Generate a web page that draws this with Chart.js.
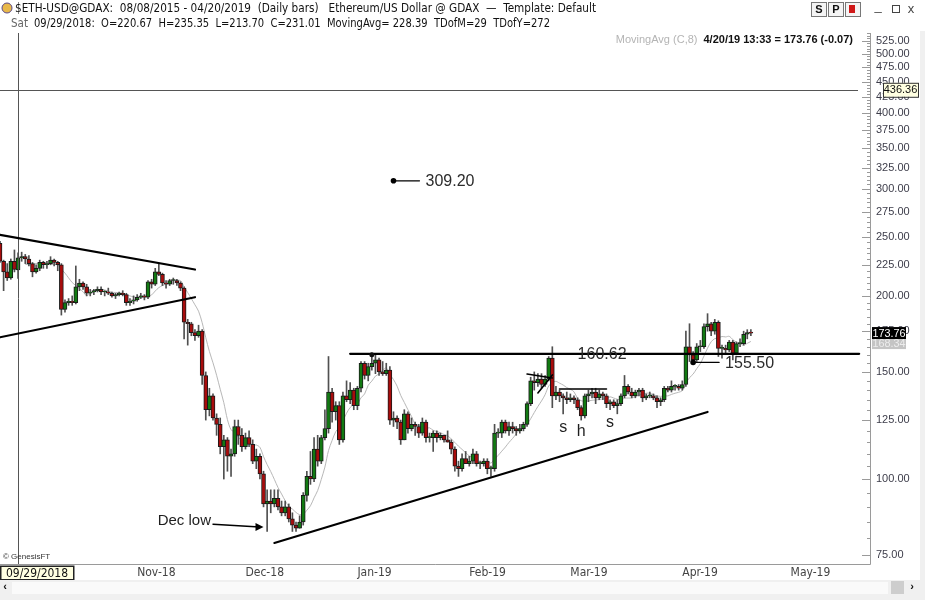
<!DOCTYPE html>
<html>
<head>
<meta charset="utf-8">
<title>$ETH-USD@GDAX daily bars</title>
<script src="https://cdn.jsdelivr.net/npm/chart.js@4.4.1/dist/chart.umd.min.js"></script>
<style>
    html, body { margin: 0; padding: 0; background: #fff; }
    #wrap { width: 925px; height: 600px; overflow: hidden; }
</style>
</head>
<body>
<div id="wrap"><canvas id="chart" width="925" height="600"></canvas></div>
<script>
// ETH-USD @ GDAX, daily bars 24 Sep 2018 - 20 Apr 2019

// Daily OHLC, one line per month
const opens = [
    244, 228, 219, 214, 228, 220.67, 231,
    232, 230, 226, 219, 222, 227, 225, 226, 229, 227, 225, 190, 195, 196, 195, 207, 210, 207, 202, 203, 204, 205, 203, 203, 202, 200, 201, 202, 201, 195, 196,
    197, 199, 200, 199, 211, 209, 219, 217, 210, 209, 212, 212, 210, 206, 181, 180, 174, 172, 175, 148, 130, 137, 126, 123, 113, 116, 109, 110, 122, 118,
    113, 117, 114, 107, 109, 102, 91, 92, 91, 93, 90, 88, 90, 86, 84, 83, 85, 94, 101, 100, 112, 107, 117, 121, 139, 129, 132, 116, 137, 135, 140,
    132, 141, 155, 148, 153, 155, 157, 150, 149, 151, 125, 126, 124, 116, 128, 121, 123, 122, 119, 124, 117, 117, 119, 117, 118, 116, 115, 112, 105, 104, 108,
    106, 107, 110, 106, 106, 107, 104, 104, 119, 119, 124, 120, 122, 121, 120, 121, 123, 133, 145, 144, 146, 143, 146, 158, 137, 139, 137, 136,
    135, 136, 135, 131, 127, 137, 138, 139, 136, 138, 137, 133, 134, 132, 133, 137, 142, 139, 137, 139, 140, 136, 137, 137, 136, 134, 135, 141, 140, 142, 142,
    141, 143, 165, 160, 157, 165, 165, 178, 180, 175, 181, 164, 164, 163, 168, 161, 167, 167, 173, 174
];
const highs = [
    246, 229, 226, 230, 238, 235.35, 236,
    234, 233, 227, 225, 229, 228, 228, 232, 230, 228, 226, 197, 198, 200, 224, 213, 211, 209, 205, 205, 207, 207, 204, 206, 203, 202, 203, 204, 202, 198, 200,
    201, 202, 201, 212, 213, 222, 226, 218, 212, 213, 214, 213, 211, 207, 183, 181, 176, 179, 176, 150, 141, 138, 128, 126, 118, 117, 112, 125, 125, 121,
    119, 120, 116, 112, 110, 103, 96, 96, 96, 96, 92, 92, 91, 88, 85, 87, 95, 103, 111, 117, 118, 118, 130, 159, 141, 134, 134, 139, 145, 144, 141,
    142, 156, 156, 155, 160.62, 160, 158, 156, 155, 153, 129, 127, 125, 130, 129, 126, 124, 123, 126, 125, 119, 120, 120, 119, 118, 120, 116, 113, 107, 110, 111,
    109, 112, 111, 107, 108, 108, 105, 123, 121, 125, 125, 124, 124, 122, 123, 124, 134, 147, 150, 149, 149, 148, 159, 165, 142, 140, 138, 139,
    138, 137, 136, 132, 138, 140, 141, 141, 140, 139, 138, 135, 135, 135, 138, 148, 143, 141, 140, 141, 141, 138, 139, 138, 137, 136, 142, 142, 145, 143, 143,
    145, 175, 180, 162, 167, 169, 180, 187, 181, 183, 182, 166, 166, 169, 169, 168, 170, 175, 176, 176
];
const lows = [
    227, 204, 212, 213, 219, 213.70, 228,
    226, 224, 215, 218, 220, 222, 222, 225, 224, 220, 186, 188, 193, 193, 194, 204, 205, 200, 200, 201, 203, 201, 200, 201, 199, 198, 200, 200, 193, 193, 194,
    196, 198, 197, 198, 206, 208, 216, 208, 206, 208, 209, 208, 204, 170, 166, 172, 169, 171, 143, 125, 127, 125, 118, 110, 100, 103, 101, 109, 114, 111,
    112, 113, 106, 104, 100, 90, 82, 88, 90, 89, 87, 87, 85, 82, 82, 83, 84, 92, 98, 99, 105, 106, 116, 119, 124, 125, 114, 115, 134, 133, 130,
    130, 139, 146, 145, 151, 149, 148, 148, 148, 123, 122, 121, 114, 116, 119, 120, 118, 117, 118, 115, 115, 111, 115, 116, 115, 115, 110, 103, 101, 103, 106,
    105, 106, 105, 104, 105, 102, 101, 103, 117, 117, 119, 118, 119, 118, 119, 120, 122, 132, 140, 142, 141, 142, 145, 131, 135, 134, 128, 133,
    134, 133, 130, 125, 126, 134, 136, 133, 135, 135, 131, 130, 131, 128, 132, 136, 138, 136, 136, 137, 134, 135, 136, 135, 131, 132, 134, 139, 139, 140, 140,
    140, 142, 156, 155.5, 156, 162, 164, 175, 172, 173, 159, 158, 161, 162, 157, 160, 165, 166, 170, 172
];
const closes = [
    228, 219, 214, 228, 221, 231.01, 232,
    230, 226, 219, 222, 227, 225, 226, 229, 227, 225, 190, 195, 196, 195, 207, 210, 207, 202, 203, 204, 205, 203, 203, 202, 200, 201, 202, 201, 195, 196, 197,
    199, 200, 199, 211, 209, 219, 217, 210, 209, 212, 212, 210, 206, 181, 180, 174, 172, 175, 148, 130, 137, 126, 123, 113, 116, 109, 110, 122, 118, 113,
    117, 114, 107, 109, 102, 91, 92, 91, 93, 90, 88, 90, 86, 84, 83, 85, 94, 101, 100, 112, 107, 117, 121, 139, 129, 132, 116, 137, 135, 140, 132,
    141, 155, 148, 153, 155, 157, 150, 149, 151, 125, 126, 124, 116, 128, 121, 123, 122, 119, 124, 117, 117, 119, 117, 118, 116, 115, 112, 105, 104, 108, 106,
    107, 110, 106, 106, 107, 104, 104, 119, 119, 124, 120, 122, 121, 120, 121, 123, 133, 145, 144, 146, 143, 146, 158, 137, 139, 137, 136, 135,
    136, 135, 131, 127, 137, 138, 139, 136, 138, 137, 133, 134, 132, 133, 137, 142, 139, 137, 139, 140, 136, 137, 137, 136, 134, 135, 141, 140, 142, 142, 141,
    143, 165, 160, 157, 165, 165, 178, 180, 175, 181, 164, 164, 163, 168, 161, 167, 167, 173, 174, 173.76
];

// price axis ticks
const priceTicks = [75, 100, 125, 150, 175, 200, 225, 250, 275, 300, 325, 350, 375, 400, 425, 450, 475, 500, 525];

// drawn studies: [fromDate, fromPrice, toDate, toPrice]
const trendLines = [
    ['2018-09-24', 252, '2018-11-17', 221],
    ['2018-09-24', 171, '2018-11-17', 199],
    ['2018-12-09', 78.5, '2019-04-08', 128.9],
    ['2018-12-30', 160.62, '2019-05-20', 160.62],
    ['2019-02-17', 148.8, '2019-02-24', 146.6],
    ['2019-02-20', 138.5, '2019-02-24', 148.3],
    ['2019-02-26', 140.6, '2019-03-11', 140.6]
];
const priceMarks = [
    { date: '2019-01-11', price: 309.20, text: '309.20' },
    { date: '2019-04-04', price: 155.50, text: '155.50' }
];
const letters = [
    { date: '2019-02-27', price: 121.3, text: 's' },
    { date: '2019-03-04', price: 119.5, text: 'h' },
    { date: '2019-03-12', price: 123.6, text: 's' }
];

const crossDate = '2018-09-29';
const crossPrice = 436.36;
const lastPrice = 173.76;

// Category axis: one slot per calendar day
const startDay = Date.UTC(2018, 8, 24);
const dayCount = 242;
const DAY = 86400000;
const months = ['Jan', 'Feb', 'Mar', 'Apr', 'May', 'Jun', 'Jul', 'Aug', 'Sep', 'Oct', 'Nov', 'Dec'];
const dates = Array.from({ length: dayCount }, (_, i) => new Date(startDay + i * DAY));
const labels = dates.map(d => d.toISOString().slice(0, 10));

function dayIndex(s) {
    const p = s.split('-').map(Number);
    return (Date.UTC(p[0], p[1] - 1, p[2]) - startDay) / DAY;
}

// MovingAvg (C,8)
const movingAvg = closes.map((c, i) => {
    if (i < 7) return null;
    let s = 0;
    for (let k = i - 7; k <= i; k++) s += closes[k];
    return s / 8;
});

const NARROW = '"Liberation Sans Narrow", "DejaVu Sans Condensed", "Arial Narrow", sans-serif';
const SANS = '"Liberation Sans", Arial, sans-serif';
const UP = '#127a12';
const DOWN = '#a80c0c';

const overlay = {
    id: 'overlay',
    beforeDraw(chart) {
        const ctx = chart.ctx;
        ctx.save();
        ctx.fillStyle = '#fff';
        ctx.fillRect(0, 0, chart.width, chart.height);
        ctx.restore();
    },
    afterDatasetsDraw(chart) {
        const ctx = chart.ctx;
        const xs = chart.scales.x, ys = chart.scales.y;
        const X = d => xs.getPixelForValue(dayIndex(d));
        const Y = p => ys.getPixelForValue(p);
        const area = chart.chartArea;

        ctx.save();
        ctx.beginPath();
        ctx.rect(area.left, area.top, area.right - area.left, area.bottom - area.top);
        ctx.clip();

        // crosshair
        ctx.strokeStyle = '#555';
        ctx.lineWidth = 1;
        const cx = Math.round(X(crossDate)) + 0.5;
        ctx.beginPath();
        ctx.moveTo(cx, area.top);
        ctx.lineTo(cx, area.bottom);
        const cy = Math.round(Y(crossPrice)) + 0.5;
        ctx.moveTo(area.left, cy);
        ctx.lineTo(858, cy);
        ctx.stroke();

        // trend lines
        ctx.strokeStyle = '#000';
        ctx.lineCap = 'round';
        trendLines.forEach((t, i) => {
            ctx.lineWidth = i >= 4 ? 1.6 : 2.2;
            ctx.beginPath();
            ctx.moveTo(X(t[0]), Y(t[1]));
            ctx.lineTo(X(t[2]), Y(t[3]));
            ctx.stroke();
        });

        // high marker on the Jan top
        ctx.fillStyle = '#111';
        ctx.beginPath();
        ctx.arc(X('2019-01-05'), Y(160.62) + 1, 2.5, 0, Math.PI * 2);
        ctx.fill();

        // price marks: dot, short line, value
        ctx.font = '16px ' + SANS;
        ctx.textBaseline = 'middle';
        ctx.textAlign = 'left';
        priceMarks.forEach(m => {
            const x = X(m.date), y = Y(m.price);
            ctx.fillStyle = '#000';
            ctx.beginPath();
            ctx.arc(x, y, 2.8, 0, Math.PI * 2);
            ctx.fill();
            ctx.strokeStyle = '#000';
            ctx.lineWidth = 1.2;
            ctx.beginPath();
            ctx.moveTo(x, y);
            ctx.lineTo(x + 26, y);
            ctx.stroke();
            ctx.fillStyle = '#2b2b2b';
            ctx.fillText(m.text, x + 32, y + 1);
        });

        // value on the resistance line
        ctx.fillStyle = '#2b2b2b';
        ctx.fillText('160.62', X('2019-03-03'), Y(160.62) + 1);

        // s h s
        ctx.textAlign = 'center';
        ctx.fillStyle = '#1e1e1e';
        letters.forEach(l => ctx.fillText(l.text, X(l.date), Y(l.price)));

        // Dec low arrow
        const ax0 = X('2018-11-22'), ay0 = Y(84.3);
        const ax1 = X('2018-12-06'), ay1 = Y(83.4);
        ctx.strokeStyle = '#000';
        ctx.lineWidth = 1.5;
        ctx.beginPath();
        ctx.moveTo(ax0, ay0);
        ctx.lineTo(ax1 - 4, ay1);
        ctx.stroke();
        ctx.beginPath();
        ctx.moveTo(ax1, ay1);
        ctx.lineTo(ax1 - 8, ay1 - 4);
        ctx.lineTo(ax1 - 8, ay1 + 4);
        ctx.closePath();
        ctx.fillStyle = '#000';
        ctx.fill();
        ctx.font = '15px ' + SANS;
        ctx.textAlign = 'right';
        ctx.fillStyle = '#1e1e1e';
        ctx.fillText('Dec low', ax0 - 2, ay0 - 3);

        ctx.restore();
    },
    afterDraw(chart) {
        const ctx = chart.ctx;
        const ys = chart.scales.y;
        const area = chart.chartArea;
        ctx.save();

        // frame + price axis tick marks
        ctx.strokeStyle = '#9a9a9a';
        ctx.lineWidth = 1;
        ctx.beginPath();
        ctx.moveTo(area.right + 0.5, area.top);
        ctx.lineTo(area.right + 0.5, area.bottom + 0.5);
        ctx.lineTo(0, area.bottom + 0.5);
        ctx.stroke();
        ctx.beginPath();
        for (let v = 75; v <= 540; v += 5) {
            const y = Math.round(ys.getPixelForValue(v)) + 0.5;
            const len = priceTicks.includes(v) ? 8 : 3;
            ctx.moveTo(area.right - len, y);
            ctx.lineTo(area.right, y);
        }
        ctx.stroke();

        // study caption
        ctx.textBaseline = 'middle';
        ctx.font = 'bold 11px ' + SANS;
        ctx.textAlign = 'right';
        ctx.fillStyle = '#111';
        const cap = '4/20/19 13:33 = 173.76 (-0.07)';
        ctx.fillText(cap, 853, 40);
        const capW = ctx.measureText(cap).width;
        ctx.font = '11px ' + SANS;
        ctx.fillStyle = '#b4b4b4';
        ctx.fillText('MovingAvg (C,8)', 853 - capW - 6, 40);

        ctx.font = '8px ' + SANS;
        ctx.textAlign = 'left';
        ctx.fillStyle = '#333';
        ctx.fillText('\u00a9 GenesisFT', 3, 557);

        // axis boxes
        ctx.font = '11px ' + SANS;
        ctx.textAlign = 'center';
        const hy = ys.getPixelForValue(crossPrice);
        ctx.fillStyle = '#ffffe1';
        ctx.fillRect(883, hy - 7, 35, 14);
        ctx.strokeStyle = '#333';
        ctx.strokeRect(883.5, hy - 6.5, 35, 14);
        ctx.fillStyle = '#111';
        ctx.fillText(crossPrice.toFixed(2), 900.5, hy + 0.5);

        const ly = ys.getPixelForValue(lastPrice);
        ctx.fillStyle = '#000';
        ctx.fillRect(872, ly - 6, 34, 12);
        ctx.fillStyle = '#fff';
        ctx.fillText(lastPrice.toFixed(2), 889, ly + 0.5, 33);
        ctx.fillStyle = '#c4c4c4';
        ctx.fillRect(872, ly + 6, 34, 10);
        ctx.fillStyle = '#ececec';
        ctx.fillText(movingAvg[movingAvg.length - 1].toFixed(2), 889, ly + 11, 33);

        // selected date box
        ctx.fillStyle = '#ffffe1';
        ctx.fillRect(0, 566, 74, 14);
        ctx.strokeStyle = '#222';
        ctx.lineWidth = 1.5;
        ctx.strokeRect(0.75, 566.25, 73, 13.5);
        ctx.font = '12px ' + NARROW;
        ctx.fillStyle = '#111';
        ctx.fillText('09/29/2018', 37, 573.5, 66);

        // scroll bar
        ctx.fillStyle = '#f0f0f0';
        ctx.fillRect(0, 580, 925, 20);
        ctx.fillRect(920, 0, 5, 600);
        ctx.fillStyle = '#fafafa';
        ctx.fillRect(12, 582, 876, 12);
        ctx.fillStyle = '#cdcdcd';
        ctx.fillRect(891, 581, 13, 13);
        ctx.fillStyle = '#111';
        ctx.font = 'bold 11px ' + SANS;
        ctx.fillText('\u2039', 5, 587);
        ctx.fillText('\u203a', 912, 587);

        // header rows
        ctx.fillStyle = '#fff';
        ctx.fillRect(0, 0, 925, 31);
        ctx.fillStyle = '#e8b84a';
        ctx.beginPath();
        ctx.arc(7, 8, 5, 0, Math.PI * 2);
        ctx.fill();
        ctx.strokeStyle = '#5a4a8a';
        ctx.lineWidth = 1;
        ctx.stroke();

        ctx.textAlign = 'left';
        ctx.fillStyle = '#111';
        ctx.font = '13px ' + NARROW;
        ctx.fillText('$ETH-USD@GDAX:  08/08/2015 - 04/20/2019  (Daily bars)   Ethereum/US Dollar @ GDAX  \u2014  Template: Default', 15, 9, 581);
        ctx.font = '12px ' + NARROW;
        ctx.fillStyle = '#666';
        ctx.fillText('Sat', 11, 24, 17);
        ctx.fillStyle = '#111';
        ctx.fillText('09/29/2018:  O=220.67  H=235.35  L=213.70  C=231.01  MovingAvg= 228.39  TDofM=29  TDofY=272', 34, 24, 516);

        // window buttons
        ['S', 'P', ''].forEach((b, i) => {
            const bx = 811 + i * 17;
            ctx.fillStyle = '#f4f4f4';
            ctx.fillRect(bx, 2, 15, 14);
            ctx.strokeStyle = '#777';
            ctx.strokeRect(bx + 0.5, 2.5, 15, 14);
            ctx.fillStyle = '#111';
            ctx.font = 'bold 11px ' + SANS;
            ctx.textAlign = 'center';
            if (b) ctx.fillText(b, bx + 8, 10);
        });
        ctx.fillStyle = '#d01818';
        ctx.fillRect(849, 5, 6, 8);
        ctx.fillStyle = '#444';
        ctx.font = '13px ' + SANS;
        ctx.fillText('_', 878, 6);
        ctx.strokeStyle = '#444';
        ctx.strokeRect(892.5, 5.5, 7, 7);
        ctx.fillText('x', 911, 9);

        ctx.restore();
    }
};

new Chart(document.getElementById('chart'), {
    type: 'bar',
    data: {
        labels: labels,
        datasets: [
            {
                type: 'line',
                label: 'MovingAvg (C,8)',
                data: movingAvg,
                borderColor: '#b8b8b8',
                borderWidth: 1,
                pointRadius: 0,
                tension: 0.3,
                order: 4
            },
            {
                label: 'wick',
                data: lows.map((l, i) => [l, highs[i]]),
                backgroundColor: '#505050',
                barThickness: 1,
                grouped: false,
                order: 3
            },
            {
                label: 'body',
                data: opens.map((o, i) => [o, closes[i]]),
                backgroundColor: closes.map((c, i) => c >= opens[i] ? UP : DOWN),
                borderColor: '#1a1a1a',
                borderWidth: 1,
                borderSkipped: false,
                barThickness: 4,
                minBarLength: 1,
                grouped: false,
                order: 2
            }
        ]
    },
    options: {
        responsive: false,
        animation: false,
        devicePixelRatio: 1,
        layout: { padding: { top: 33, left: 0, right: 0, bottom: 0 } },
        plugins: {
            legend: { display: false },
            tooltip: { enabled: false }
        },
        scales: {
            x: {
                type: 'category',
                offset: false,
                grid: { display: false, drawTicks: false, tickLength: 0 },
                border: { display: false },
                afterFit: axis => { axis.height = 36; },
                ticks: {
                    autoSkip: false,
                    maxRotation: 0,
                    align: 'start',
                    padding: 2,
                    color: '#444',
                    font: { family: NARROW, size: 12 },
                    callback: (v, i) => {
                        const d = dates[i];
                        if (!d || d.getUTCDate() !== 1) return null;
                        return months[d.getUTCMonth()] + '-' + String(d.getUTCFullYear()).slice(2);
                    }
                }
            },
            y: {
                type: 'logarithmic',
                position: 'right',
                min: 72.5,
                max: 541,
                bounds: 'data',
                grid: { display: false, drawTicks: false, tickLength: 0 },
                border: { display: false },
                afterFit: axis => { axis.width = 55; },
                afterBuildTicks: axis => { axis.ticks = priceTicks.map(v => ({ value: v })); },
                ticks: {
                    autoSkip: false,
                    padding: 6,
                    color: '#3d3d4a',
                    font: { family: SANS, size: 11 },
                    callback: v => Number(v).toFixed(2)
                }
            }
        }
    },
    plugins: [overlay]
});
</script>
</body>
</html>
